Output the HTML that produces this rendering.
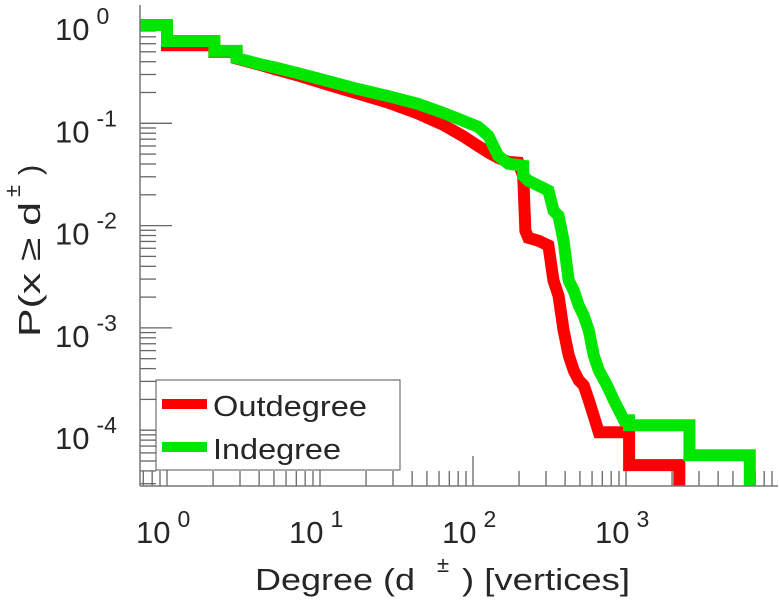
<!DOCTYPE html>
<html><head><meta charset="utf-8"><style>
body{margin:0;background:#fff}
svg text{font-family:"Liberation Sans",sans-serif;fill:#262626}
</style></head><body>
<svg id="chart" width="780" height="600" xmlns="http://www.w3.org/2000/svg">
<g id="ticks"></g>
<g id="series"></g>
<g id="labels"></g>
<line x1="140" y1="5" x2="140" y2="486" stroke="#777" stroke-width="1.5"/>
<line x1="140" y1="486" x2="778" y2="486" stroke="#777" stroke-width="1.5"/>
<g>
<rect x="156" y="380" width="244" height="90" fill="#fff" stroke="#555" stroke-width="1"/>
<line x1="162" y1="404" x2="207" y2="404" stroke="#ff0000" stroke-width="10"/>
<text x="213" y="416" font-size="29" textLength="154" lengthAdjust="spacingAndGlyphs">Outdegree</text>
<line x1="162" y1="447" x2="207" y2="447" stroke="#00e600" stroke-width="10"/>
<text x="213" y="459" font-size="29" textLength="128" lengthAdjust="spacingAndGlyphs">Indegree</text>
</g>
<g>
<text x="255" y="590" font-size="31" textLength="160" lengthAdjust="spacingAndGlyphs">Degree (d</text>
<text x="437" y="572" font-size="22">±</text>
<text x="462" y="590" font-size="31" textLength="168" lengthAdjust="spacingAndGlyphs">) [vertices]</text>
</g>
<g transform="translate(40,337) rotate(-90)">
<text x="0" y="0" font-size="31" textLength="135" lengthAdjust="spacingAndGlyphs">P(x ≥ d</text>
<text x="140" y="-20" font-size="22">±</text>
<text x="162" y="0" font-size="31">)</text>
</g>
</svg>
<script>
const outDeg=[0.625,1,1,2.04,2.04,2.85,2.85,4,5.2,7.06,11.1,17.5,27.6,43.5,63.5,86,108,126,146,170,198,213,220,230,268,311,336,362,391,422,455,491,529,571,664,1047,1047,2230,2230];
const outP=[0.914,0.914,0.58,0.58,0.5,0.5,0.43,0.375,0.335,0.295,0.24,0.196,0.16,0.125,0.097,0.075,0.06,0.052,0.046,0.042,0.0412,0.0307,0.0089,0.0076,0.0071,0.0064,0.0029,0.00207,0.000946,0.00054,0.000385,0.000308,0.000275,0.000196,0.0000955,0.0000955,0.0000456,0.0000456,0.000025];
const inDeg=[0.625,1,1,2.04,2.04,2.85,2.85,4,5.2,7.06,11.1,17.5,27.6,43.5,63.5,86,108,126,146,170,213,213,230,268,311,336,362,391,422,455,491,529,571,615,664,750,834,970,1047,1047,2597,2597,6440,6440];
const inP=[0.914,0.914,0.638,0.638,0.51,0.51,0.435,0.38,0.348,0.311,0.26,0.217,0.185,0.155,0.127,0.106,0.0925,0.0755,0.0482,0.0403,0.0385,0.0307,0.0275,0.0246,0.022,0.014,0.0125,0.0071,0.0029,0.00232,0.00166,0.00132,0.000946,0.00054,0.000385,0.000275,0.000196,0.000125,0.000125,0.000112,0.000112,0.000057,0.000057,0.000025];
const xDecades=[0,1,2,3];
const yDecades=[0,-1,-2,-3,-4];
const NS="http://www.w3.org/2000/svg";
function xs(d){return 167+153*Math.log10(d);}
function ys(p){return 21-102.3*Math.log10(p);}
const ticks=document.getElementById('ticks'),series=document.getElementById('series'),labels=document.getElementById('labels');
function mk(tag,attrs,parent){const e=document.createElementNS(NS,tag);for(const k in attrs)e.setAttribute(k,attrs[k]);parent.appendChild(e);return e;}
for(let e=-1;e<=3;e++){for(let m=1;m<10;m++){const v=m*Math.pow(10,e);const x=xs(v);if(x<140||x>778)continue;
const t=mk('line',{x1:x,x2:x,y1:486,y2:m===1?456:471,stroke:'#666','stroke-width':1.3},ticks);

}}
for(let e=-5;e<=0;e++){for(let m=1;m<10;m++){const v=m*Math.pow(10,e);const y=ys(v);if(y<5||y>486)continue;
const t=mk('line',{x1:140,x2:m===1?172:156,y1:y,y2:y,stroke:'#666','stroke-width':1.3},ticks);

}}
xDecades.forEach(d=>{const x=xs(Math.pow(10,d));const t=mk('text',{x:x-31,y:543,'font-size':31},labels);
t.innerHTML='10<tspan font-size="23" dy="-16" dx="7">'+d+'</tspan>';

});
yDecades.forEach(d=>{const y=ys(Math.pow(10,d));const t=mk('text',{x:55,y:y+19,'font-size':31},labels);
t.innerHTML='10<tspan font-size="23" dy="-16" dx="7">'+d+'</tspan>';

});
const defs=mk('defs',{},series);const cp=mk('clipPath',{id:'clip'},defs);mk('rect',{x:140,y:0,width:640,height:486},cp);
function draw(D,P,color,name){const pts=D.map((d,i)=>xs(d).toFixed(1)+','+ys(P[i]).toFixed(1)).join(' ');
const pl=mk('polyline',{points:pts,fill:'none',stroke:color,'stroke-width':12,'stroke-linejoin':'miter','clip-path':'url(#clip)'},series);

}
draw(outDeg,outP,'#ff0000','outdegree-line');
draw(inDeg,inP,'#00e600','indegree-line');
</script>
</body></html>
